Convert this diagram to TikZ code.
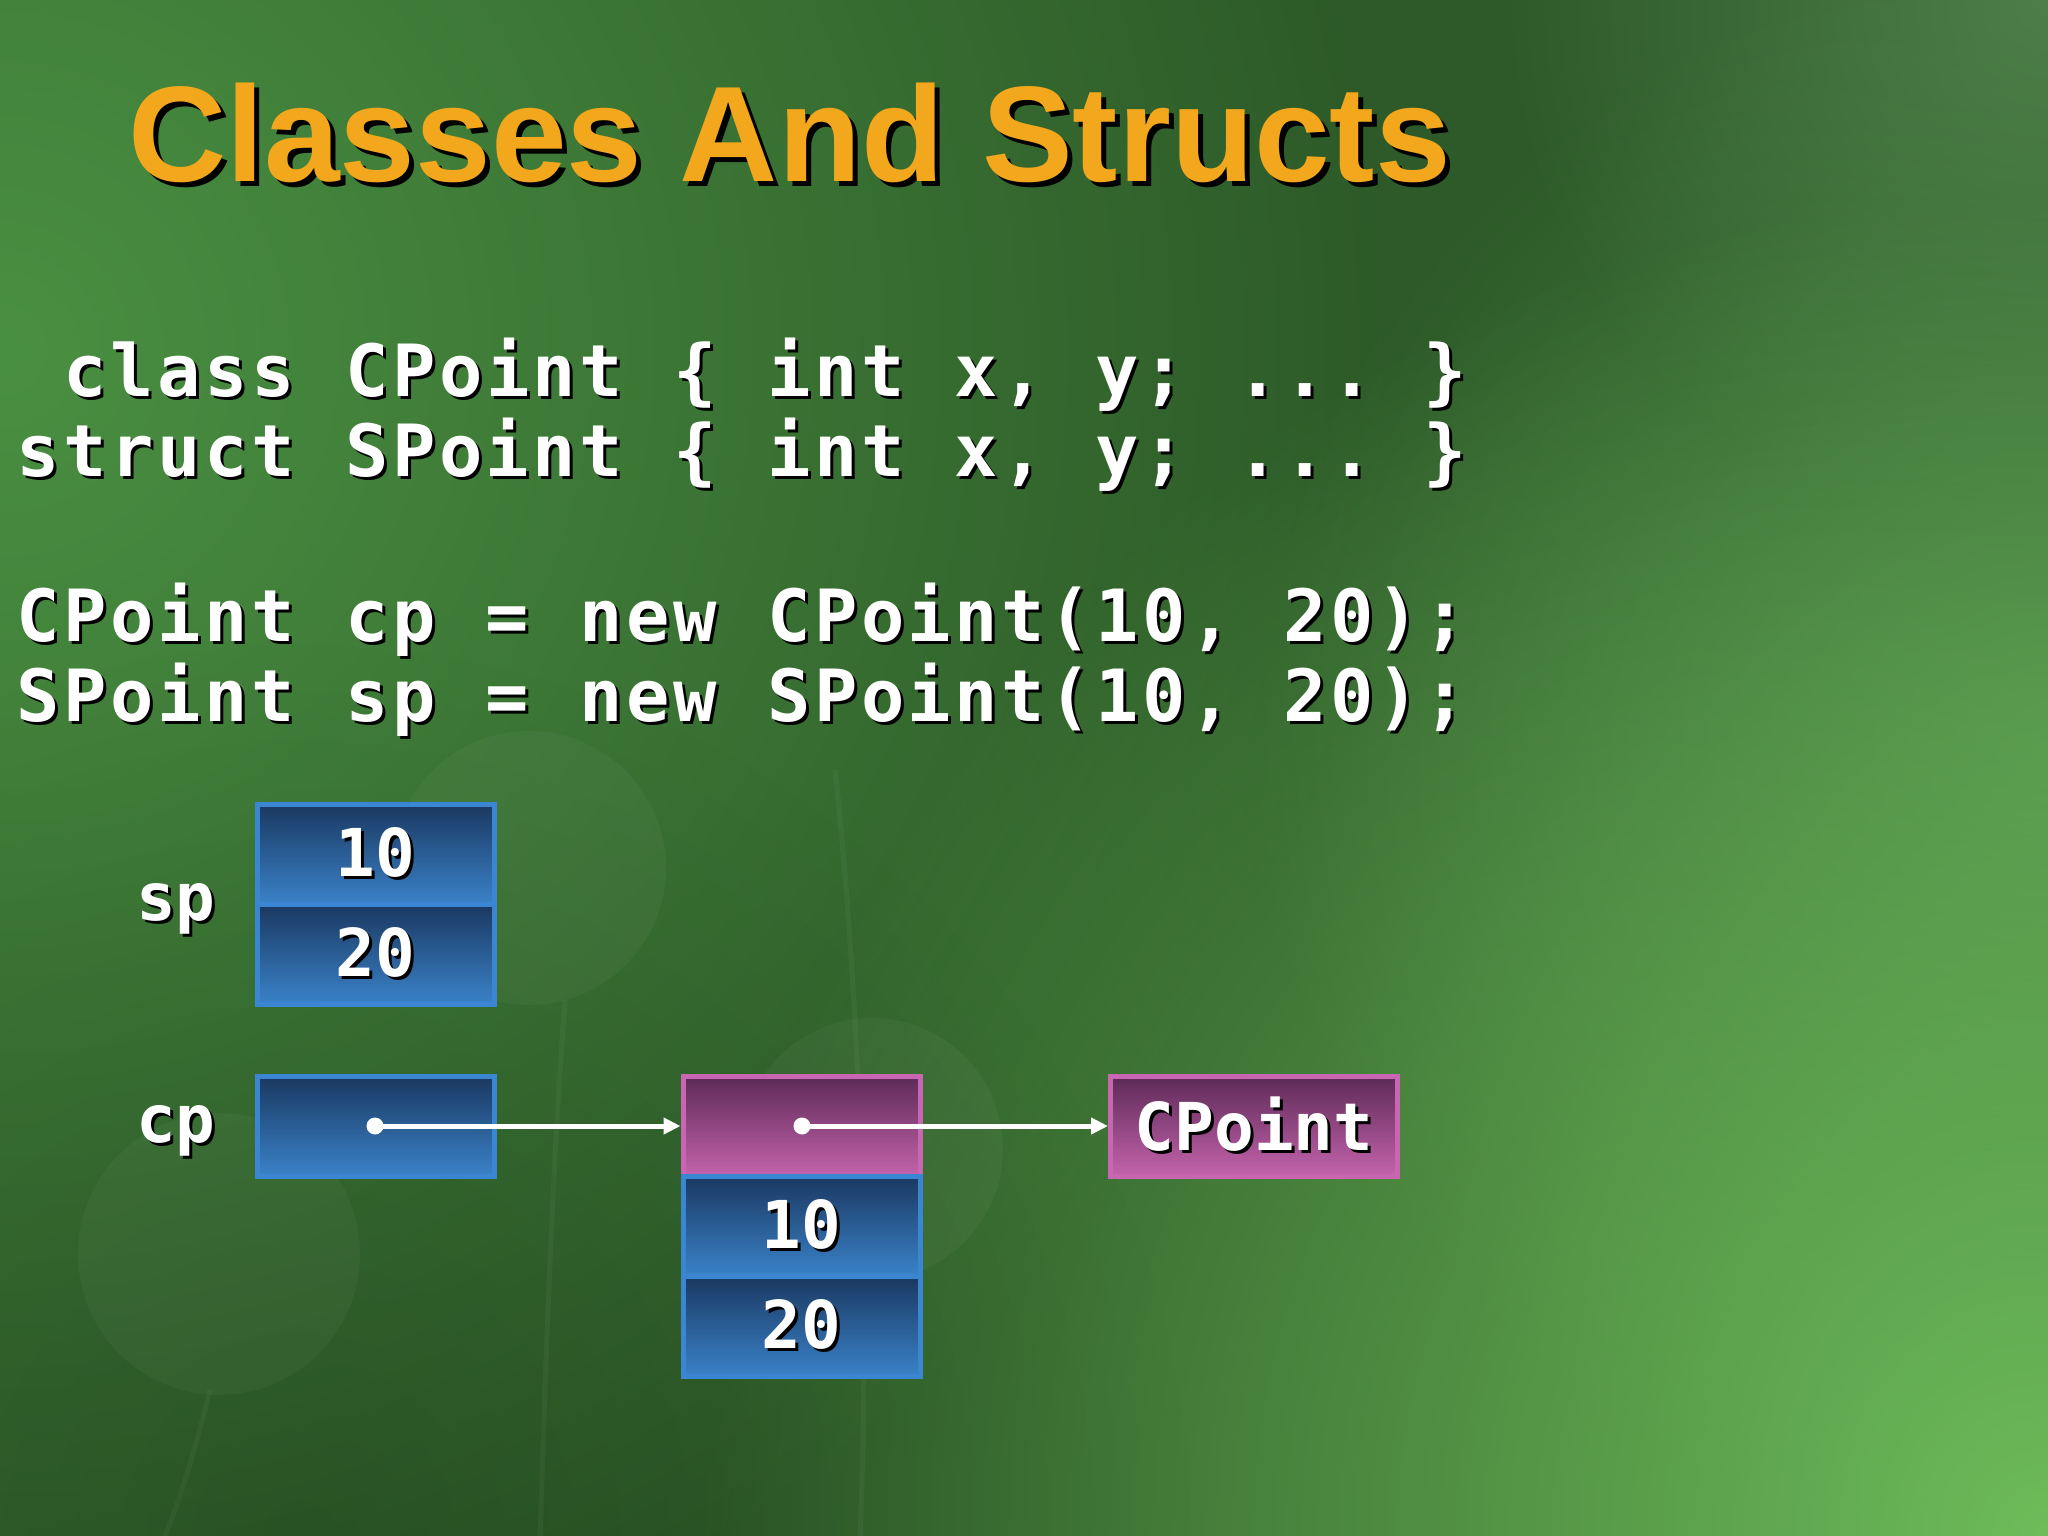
\documentclass[tikz,border=0pt]{standalone}
\usepackage{fontspec}
\usetikzlibrary{arrows.meta,fadings,shadings}
\newfontfamily\titlefont{Liberation Sans}
\newfontfamily\codefont{DejaVu Sans Mono}
\definecolor{bgbase}{HTML}{2D5A28}
\definecolor{bgleft}{HTML}{4A9042}
\definecolor{bgbr}{HTML}{6EBC5A}
\definecolor{bgtr}{HTML}{4E7E4A}
\definecolor{bgr}{HTML}{4E8849}
\definecolor{titleor}{HTML}{F2A71C}
\definecolor{cellbord}{HTML}{3A86D2}
\definecolor{celltop}{HTML}{1A3860}
\definecolor{cellbot}{HTML}{3A82C8}
\definecolor{pinkbord}{HTML}{C866B2}
\definecolor{pinktop}{HTML}{5C2A56}
\definecolor{pinkbot}{HTML}{C463AC}
\tikzfading[name=radfade, inner color=transparent!0, outer color=transparent!100]
\newcommand\shd[2][3pt]{\rlap{\kern#1\raisebox{-#1}{\color{black}#2}}#2}
\ExplSyntaxOn
\NewDocumentCommand\monoline{m}{\str_map_inline:nn {#1} {\makebox[46.9pt][c]{##1}}}
\ExplSyntaxOff
\begin{document}
\begin{tikzpicture}[x=1pt,y=-1pt,
  codetext/.style={text=white,inner sep=0pt,anchor=base west,font=\codefont\bfseries\fontsize{72}{80}\selectfont},
  cell/.style={draw=cellbord,line width=5pt,top color=celltop,bottom color=cellbot,minimum width=237pt,minimum height=100pt,inner sep=0pt,text=white,font=\codefont\bfseries\fontsize{66}{80}\selectfont},
  pinkcell/.style={cell,draw=pinkbord,top color=pinktop,bottom color=pinkbot},
  lbl/.style={text=white,inner sep=0pt,anchor=base west,font=\codefont\bfseries\fontsize{66}{80}\selectfont},
  ptr/.style={draw=white,line width=5pt,-{Triangle[length=17pt,width=16pt]}},
  dot/.style={circle,fill=white,minimum size=17pt,inner sep=0pt}]
% background
\useasboundingbox (0,0) rectangle (2048,1536);
\fill[bgbase] (0,0) rectangle (2048,1536);
\begin{scope}
\clip (0,0) rectangle (2048,1536);
\fill[bgleft,path fading=radfade] (0,350) circle (1400);
\fill[bgtr,path fading=radfade] (2048,0) circle (550);
\fill[bgr,path fading=radfade] (2048,750) circle (800);
\fill[bgbr,path fading=radfade] (2048,1536) circle (1350);
\fill[black,opacity=0.15,path fading=radfade] (300,1536) circle (900);
% faint decorative circles and stems
\fill[white,opacity=0.035] (529,868) circle (137);
\fill[white,opacity=0.035] (872,1149) circle (131);
\fill[white,opacity=0.035] (219,1254) circle (141);
\draw[white,opacity=0.04,line width=5pt] (565,1000) .. controls (550,1200) and (545,1400) .. (540,1536);
\draw[white,opacity=0.04,line width=5pt] (835,770) .. controls (860,1000) and (870,1300) .. (860,1536);
\draw[white,opacity=0.04,line width=5pt] (210,1390) .. controls (195,1450) and (180,1500) .. (165,1536);
\end{scope}
% title
\node[anchor=base west,inner sep=0pt,text=titleor,font=\titlefont\bfseries\fontsize{136}{140}\selectfont] (title) at (128,182) {\shd[5pt]{Classes And Structs}};
% code
\node[codetext] (l1) at (62,396) {\shd{\monoline{class CPoint { int x, y; ... }}}};
\node[codetext] (l2) at (15,476) {\shd{\monoline{struct SPoint { int x, y; ... }}}};
\node[codetext] (l3) at (15,641) {\shd{\monoline{CPoint cp = new CPoint(10, 20);}}};
\node[codetext] (l4) at (15,721) {\shd{\monoline{SPoint sp = new SPoint(10, 20);}}};
% stack: sp
\node[lbl] (splbl) at (136,920) {\shd{sp}};
\node[cell] (sp1) at (375.5,854) {\shd{10}};
\node[cell] (sp2) at (375.5,954) {\shd{20}};
% stack: cp
\node[lbl] (cplbl) at (136,1142) {\shd{cp}};
\node[cell] (cp) at (375.5,1126) {};
% heap object
\node[pinkcell] (hdr) at (801.5,1126) {};
\node[cell] (h1) at (801.5,1226) {\shd{10}};
\node[cell] (h2) at (801.5,1326) {\shd{20}};
% type object
\node[pinkcell,minimum width=287pt] (type) at (1254,1126) {\shd{CPoint}};
% pointers
\node[dot] (d1) at (375,1126) {};
\node[dot] (d2) at (802,1126) {};
\draw[ptr] (d1.center) -- (hdr.west);
\draw[ptr] (d2.center) -- (type.west);
\end{tikzpicture}
\end{document}
